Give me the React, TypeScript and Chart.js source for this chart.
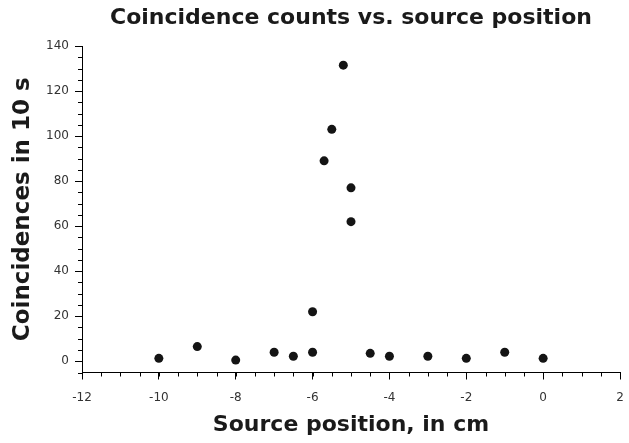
import React, { useEffect, useRef } from "react";
import { Chart, registerables } from "chart.js";

Chart.register(...registerables);

const positions = [-10, -9, -8, -7, -6.5, -6, -6, -5.7, -5.5, -5.2, -5, -5, -4.5, -4, -3, -2, -1, 0];
const counts = [1.3, 6.5, 0.5, 4, 2.2, 4, 22, 89, 103, 131.5, 77, 62, 3.5, 2.2, 2.2, 1.3, 4, 1.3];
const xTicks = [-12, -10, -8, -6, -4, -2, 0, 2];
const yTicks = [0, 20, 40, 60, 80, 100, 120, 140];
const xMinorStep = 0.5;
const yMinorStep = 5;

const minorTicks = {
  id: "minorTicks",
  afterDraw(chart: any) {
    const ctx = chart.ctx;
    const xs = chart.scales.x;
    const ys = chart.scales.y;
    ctx.save();
    ctx.strokeStyle = "#000";
    ctx.lineWidth = 1;
    ctx.beginPath();
    for (let v = xs.min; v <= xs.max + 1e-9; v += xMinorStep) {
      const px = Math.round(xs.getPixelForValue(v)) + 0.5;
      ctx.moveTo(px, xs.top);
      ctx.lineTo(px, xs.top + 4);
    }
    for (let v = ys.min; v <= ys.max + 1e-9; v += yMinorStep) {
      const py = Math.round(ys.getPixelForValue(v)) + 0.5;
      ctx.moveTo(ys.right, py);
      ctx.lineTo(ys.right - 4, py);
    }
    ctx.stroke();
    ctx.restore();
  },
};

export default function App() {
  const ref = useRef<HTMLCanvasElement>(null);
  useEffect(() => {
    if (!ref.current) return;
    const chart = new Chart(ref.current, {
      type: "scatter",
      data: {
        datasets: [
          {
            data: positions.map((x, i) => ({ x, y: counts[i] })),
            backgroundColor: "#141414",
            borderWidth: 0,
            pointRadius: 4.5,
          },
        ],
      },
      options: {
        animation: false,
        responsive: false,
        layout: { padding: { left: 0, right: 9, top: 0, bottom: 0 } },
        plugins: {
          legend: { display: false },
          tooltip: { enabled: false },
          title: {
            display: true,
            fullSize: false,
            text: "Coincidence counts vs. source position",
            color: "#1a1a1a",
            font: { family: "DejaVu Sans", size: 22, weight: "bold" },
            padding: { top: 5, bottom: 14.6 },
          },
        },
        scales: {
          x: {
            type: "linear",
            min: -12,
            max: 2,
            afterBuildTicks: (s: any) => {
              s.ticks = xTicks.map((v) => ({ value: v }));
            },
            afterFit: (s: any) => {
              s.height = 70.5;
              s.paddingLeft = 0;
              s.paddingRight = 0;
            },
            grid: { drawOnChartArea: false, tickLength: 7, color: "#000", tickColor: "#000" },
            border: { color: "#000", width: 1 },
            ticks: {
              color: "#333",
              font: { family: "DejaVu Sans", size: 12 },
              padding: 11,
              maxRotation: 0,
              autoSkip: false,
            },
            title: {
              display: true,
              text: "Source position, in cm",
              color: "#1a1a1a",
              font: { family: "DejaVu Sans", size: 22, weight: "bold" },
              padding: { top: 0, bottom: 5 },
            },
          },
          y: {
            type: "linear",
            min: -5,
            max: 140,
            afterBuildTicks: (s: any) => {
              s.ticks = yTicks.map((v) => ({ value: v }));
            },
            afterFit: (s: any) => {
              s.width = 82;
            },
            grid: { drawOnChartArea: false, tickLength: 7, color: "#000", tickColor: "#000" },
            border: { color: "#000", width: 1 },
            ticks: {
              color: "#333",
              font: { family: "DejaVu Sans", size: 12 },
              padding: 6,
              autoSkip: false,
            },
            title: {
              display: true,
              text: "Coincidences in 10 s",
              color: "#1a1a1a",
              font: { family: "DejaVu Sans", size: 23, weight: "bold" },
              padding: { top: 9, bottom: 0 },
            },
          },
        },
      },
      plugins: [minorTicks],
    });
    return () => chart.destroy();
  }, []);
  return (
    <div style={{ position: "fixed", left: 0, top: 0, width: 629, height: 443, background: "#fff" }}>
      <canvas ref={ref} width={629} height={443} />
    </div>
  );
}
